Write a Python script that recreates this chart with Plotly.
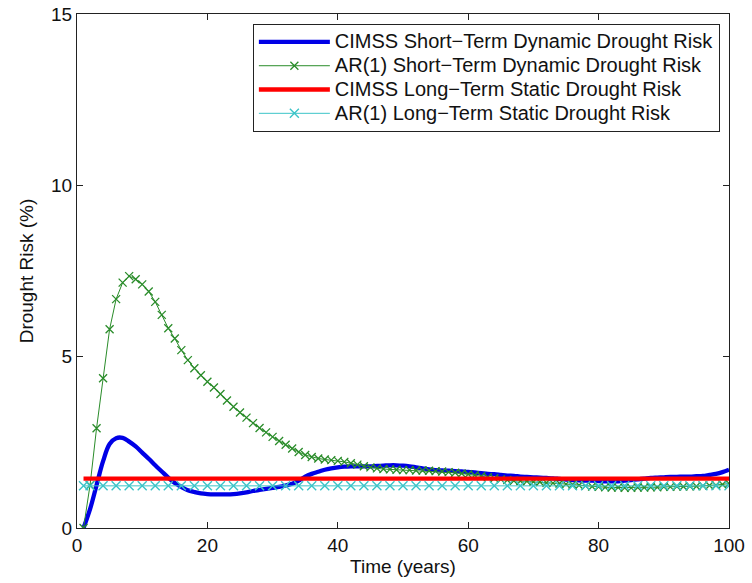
import plotly.graph_objects as go

years = list(range(1, 101))

cimss_dynamic = [
    0.00, 0.55, 1.25, 1.95, 2.45, 2.62, 2.63, 2.52, 2.38, 2.20,
    2.02, 1.83, 1.65, 1.47, 1.31, 1.20, 1.10, 1.05, 1.01, 0.99,
    0.98, 0.98, 0.98, 0.99, 1.01, 1.04, 1.08, 1.11, 1.14, 1.17,
    1.20, 1.24, 1.29, 1.38, 1.50, 1.58, 1.64, 1.70, 1.74, 1.77,
    1.79, 1.80, 1.80, 1.80, 1.80, 1.81, 1.82, 1.83, 1.83, 1.82,
    1.80, 1.77, 1.74, 1.71, 1.69, 1.68, 1.67, 1.66, 1.65, 1.64,
    1.62, 1.60, 1.58, 1.57, 1.55, 1.53, 1.52, 1.50, 1.49, 1.48,
    1.47, 1.46, 1.45, 1.43, 1.41, 1.40, 1.39, 1.38, 1.38, 1.37,
    1.36, 1.36, 1.36, 1.38, 1.40, 1.42, 1.44, 1.46, 1.47, 1.48,
    1.49, 1.49, 1.50, 1.50, 1.51, 1.52, 1.55, 1.58, 1.63, 1.70,
]

ar1_dynamic = [
    0.00, 1.25, 2.91, 4.37, 5.80, 6.68, 7.16, 7.35, 7.26, 7.11,
    6.90, 6.60, 6.22, 5.83, 5.53, 5.19, 4.90, 4.66, 4.46, 4.27,
    4.10, 3.91, 3.72, 3.54, 3.37, 3.22, 3.06, 2.92, 2.79, 2.66,
    2.54, 2.43, 2.32, 2.22, 2.13, 2.07, 2.03, 2.00, 1.98, 1.96,
    1.93, 1.89, 1.85, 1.80, 1.77, 1.74, 1.72, 1.71, 1.70, 1.69,
    1.69, 1.68, 1.68, 1.67, 1.66, 1.65, 1.63, 1.61, 1.59, 1.57,
    1.54, 1.51, 1.48, 1.45, 1.42, 1.40, 1.38, 1.37, 1.36, 1.35,
    1.34, 1.32, 1.31, 1.30, 1.28, 1.27, 1.25, 1.23, 1.21, 1.20,
    1.19, 1.18, 1.18, 1.17, 1.17, 1.18, 1.18, 1.19, 1.19, 1.20,
    1.20, 1.21, 1.21, 1.22, 1.22, 1.23, 1.24, 1.25, 1.27, 1.30,
]

cimss_static_years = [1, 100]
cimss_static = [1.44, 1.44]

ar1_static_years = [1] + list(range(2, 101, 2))
ar1_static_level = 1.23
ar1_static = [ar1_static_level] * len(ar1_static_years)

x_ticks = [0, 20, 40, 60, 80, 100]
y_ticks = [0, 5, 10, 15]

names = [
    "CIMSS Short\u2212Term Dynamic Drought Risk",
    "AR(1) Short\u2212Term Dynamic Drought Risk",
    "CIMSS Long\u2212Term Static Drought Risk",
    "AR(1) Long\u2212Term Static Drought Risk",
]

FONT = "Liberation Sans, Arial, Helvetica, sans-serif"


def legend_label(text):
    return "<span style='font-size:20px'>" + text + "</span>"


fig = go.Figure()
fig.add_trace(go.Scatter(x=years, y=cimss_dynamic, mode="lines", name=legend_label(names[0]),
                         line=dict(color="#0000e6", width=4.3, shape="spline")))
fig.add_trace(go.Scatter(x=years, y=ar1_dynamic, mode="lines+markers", name=legend_label(names[1]),
                         line=dict(color="#2a8c2a", width=1),
                         marker=dict(symbol="x-thin", size=8, color="#2a8c2a",
                                     line=dict(color="#2a8c2a", width=1.3))))
fig.add_trace(go.Scatter(x=cimss_static_years, y=cimss_static, mode="lines", name=legend_label(names[2]),
                         line=dict(color="#ff0000", width=4.3)))
fig.add_trace(go.Scatter(x=ar1_static_years, y=ar1_static, mode="lines+markers", name=legend_label(names[3]),
                         line=dict(color="#3cc4c8", width=1),
                         marker=dict(symbol="x-thin", size=9, color="#3cc4c8",
                                     line=dict(color="#3cc4c8", width=1.4))))

axis_common = dict(
    showline=True, linecolor="#222222", linewidth=1, mirror="allticks",
    ticks="inside", ticklen=6, tickcolor="#222222", tickwidth=1,
    showgrid=False, zeroline=False, automargin=False,
    tickfont=dict(family=FONT, size=19, color="#111111"),
)

fig.update_layout(
    width=752, height=583,
    margin=dict(l=77, r=23, t=14, b=55, autoexpand=False),
    paper_bgcolor="white", plot_bgcolor="white",
    font=dict(family=FONT, size=19, color="#111111"),
    xaxis=dict(range=[0, 100], tickvals=x_ticks, ticktext=[str(v) for v in x_ticks],
               title=dict(text="Time (years)", standoff=4,
                          font=dict(family=FONT, size=19)),
               **axis_common),
    yaxis=dict(range=[0, 15], tickvals=y_ticks, ticktext=[str(v) for v in y_ticks],
               title=dict(text="Drought Risk (%)", standoff=12,
                          font=dict(family=FONT, size=19)),
               **axis_common),
    legend=dict(x=0.986, xanchor="right", y=0.9805, yanchor="top",
                bgcolor="white", bordercolor="#222222", borderwidth=1,
                font=dict(family=FONT, size=16, color="#111111"),
                tracegroupgap=0, itemwidth=71),
    showlegend=True,
)

fig.write_html("out.html")
